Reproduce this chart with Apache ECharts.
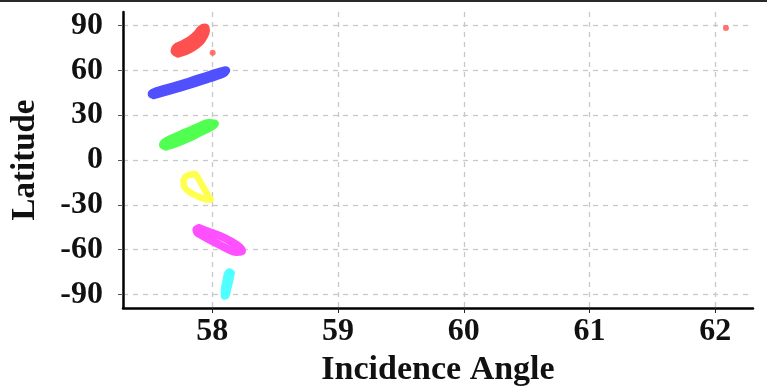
<!DOCTYPE html>
<html>
<head>
<meta charset="utf-8">
<script src="https://cdn.jsdelivr.net/npm/echarts@6/dist/echarts.min.js"></script>
<style>
  html, body { margin: 0; padding: 0; background: #fff; }
  #chart { width: 767px; height: 390px; }
</style>
</head>
<body>
<div id="chart"></div>
<script>
// tick positions
const xTicks = [58, 59, 60, 61, 62];
const yTicks = [-90, -60, -30, 0, 30, 60, 90];

// traced outlines of each point cloud: [incidence angle, latitude]
const redLoop = [
  [57.727, 71.2], [57.791, 72.9], [57.846, 75.3], [57.902, 78.9], [57.934, 82.9],
  [57.950, 86.6], [57.942, 88.6], [57.910, 87.6], [57.878, 84.3], [57.823, 80.3],
  [57.759, 77.3], [57.711, 75.3], [57.699, 72.9], [57.727, 71.2]
];
const redDots = [[58.003, 71.8], [62.085, 88.3]];
const blueLoop = [
  [57.536, 43.5], [57.663, 46.5], [57.823, 50.5], [57.982, 54.8], [58.093, 58.2],
  [58.109, 59.9], [57.982, 56.9], [57.823, 52.5], [57.663, 48.5], [57.536, 45.2],
  [57.520, 44.1], [57.536, 43.5]
];
const greenLoop = [
  [57.632, 9.0], [57.720, 11.4], [57.807, 14.4], [57.902, 18.4], [57.990, 22.1],
  [58.021, 24.4], [57.974, 24.7], [57.870, 21.4], [57.767, 17.7], [57.679, 14.4],
  [57.624, 12.0], [57.608, 10.0], [57.632, 9.0]
];
const yellowLoop = [
  [57.986, -26.4], [57.950, -21.4], [57.918, -16.7], [57.886, -12.0], [57.862, -9.4],
  [57.831, -9.7], [57.791, -11.0], [57.771, -14.0], [57.779, -18.1], [57.823, -21.7],
  [57.886, -24.4], [57.942, -26.1], [57.986, -26.4]
];
const magentaLoop = [
  [57.894, -45.5], [57.966, -47.8], [58.061, -50.8], [58.157, -54.8], [58.220, -58.5],
  [58.236, -60.9], [58.189, -61.5], [58.109, -58.9], [58.014, -54.8], [57.926, -50.8],
  [57.878, -48.2], [57.874, -46.5], [57.894, -45.5]
];
const cyanLoop = [
  [58.149, -75.6], [58.137, -80.9], [58.121, -86.3], [58.109, -90.6], [58.097, -91.0],
  [58.097, -87.0], [58.109, -81.6], [58.121, -76.6], [58.137, -74.9], [58.149, -75.6]
];

let chart = echarts.init(document.getElementById("chart"));

const font = "Liberation Serif";

function band(data, color, width) {
  return {
    type: "line",
    data: data,
    smooth: 0.35,
    showSymbol: false,
    silent: true,
    lineStyle: { color: color, width: width, cap: "round", join: "round" },
  };
}

let option = {
  animation: false,
  backgroundColor: "#fff",
  grid: { left: 123, right: 14, top: 12, bottom: 82, outerBoundsMode: "none" },
  graphic: [
    { type: "rect", left: 0, top: 0, shape: { width: 767, height: 2 }, style: { fill: "#2a2a2a" } },
  ],
  xAxis: {
    type: "value",
    min: 57.29,
    max: 62.3,
    name: "Incidence Angle",
    nameLocation: "middle",
    nameGap: 44,
    nameTextStyle: { fontFamily: font, fontWeight: "bold", fontSize: 34, color: "#111" },
    axisLine: { onZero: false, lineStyle: { color: "#000", width: 2.5 } },
    axisTick: { show: true, length: 5, customValues: xTicks, lineStyle: { color: "#222" } },
    axisLabel: {
      margin: 8,
      customValues: xTicks,
      fontFamily: font, fontWeight: "bold", fontSize: 32, color: "#111",
    },
    splitLine: { show: true, lineStyle: { color: "#c8c8c8", width: 1.3, type: [5, 5] } },
  },
  yAxis: {
    type: "value",
    min: -99,
    max: 99,
    name: "Latitude",
    nameLocation: "middle",
    nameGap: 81,
    nameTextStyle: { fontFamily: font, fontWeight: "bold", fontSize: 33, color: "#111" },
    axisLine: { show: true, onZero: false, lineStyle: { color: "#000", width: 2.5 } },
    axisTick: { show: true, length: 5, customValues: yTicks, lineStyle: { color: "#555" } },
    axisLabel: {
      margin: 20,
      customValues: yTicks,
      fontFamily: font, fontWeight: "bold", fontSize: 32, color: "#111",
    },
    splitLine: { show: true, lineStyle: { color: "#c8c8c8", width: 1.3, type: [5, 5] } },
  },
  series: [
    band(redLoop, "#ff5050", 8),
    {
      type: "scatter",
      data: redDots,
      symbolSize: 6,
      silent: true,
      itemStyle: { color: "#ff5050" },
    },
    band(blueLoop, "#5050ff", 8.5),
    band(greenLoop, "#50ff50", 8),
    band(yellowLoop, "#ffff50", 6.5),
    band(magentaLoop, "#ff50ff", 8),
    band(cyanLoop, "#50ffff", 7.5),
  ],
};

chart.setOption(option);
</script>
</body>
</html>
